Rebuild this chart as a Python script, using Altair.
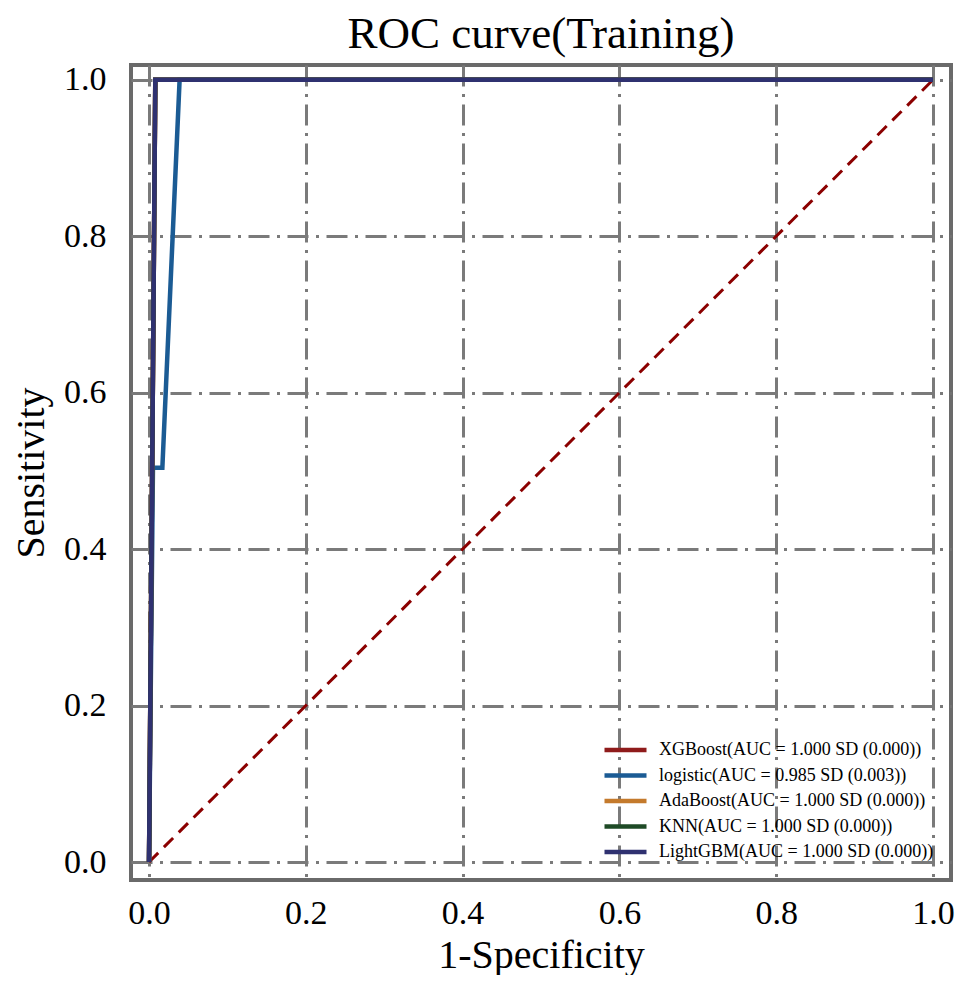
import altair as alt
import pandas as pd

models = ["XGBoost", "logistic", "AdaBoost", "KNN", "LightGBM"]
labels = [
    "XGBoost(AUC = 1.000 SD (0.000))",
    "logistic(AUC = 0.985 SD (0.003))",
    "AdaBoost(AUC = 1.000 SD (0.000))",
    "KNN(AUC = 1.000 SD (0.000))",
    "LightGBM(AUC = 1.000 SD (0.000))",
]
colors = ["#8f1b1b", "#1b5b94", "#c47a2c", "#1e4a26", "#2f3170"]

fpr_xgb = [0.0, 0.008, 1.0]
tpr_xgb = [0.0, 1.0, 1.0]
fpr_log = [0.0, 0.005, 0.017, 0.039, 1.0]
tpr_log = [0.0, 0.504, 0.504, 1.0, 1.0]
fpr_ada = [0.0, 0.008, 1.0]
tpr_ada = [0.0, 1.0, 1.0]
fpr_knn = [0.0, 0.008, 1.0]
tpr_knn = [0.0, 1.0, 1.0]
fpr_lgb = [0.0, 0.008, 1.0]
tpr_lgb = [0.0, 1.0, 1.0]

diag_x = [0.0, 1.0]
diag_y = [0.0, 1.0]

ticks = [0.0, 0.2, 0.4, 0.6, 0.8, 1.0]

series = [(fpr_xgb, tpr_xgb), (fpr_log, tpr_log), (fpr_ada, tpr_ada),
          (fpr_knn, tpr_knn), (fpr_lgb, tpr_lgb)]
rows = []
for i, (lab, (fx, ty)) in enumerate(zip(labels, series)):
    for j, (a, b) in enumerate(zip(fx, ty)):
        rows.append({"model": lab, "fpr": a, "tpr": b, "ord": j, "layer": i})
df = pd.DataFrame(rows)
ddf = pd.DataFrame({"fpr": diag_x, "tpr": diag_y})

FONT = "Liberation Serif"

xs = alt.Scale(domain=[-0.023, 1.023], nice=False, zero=False)
ys = alt.Scale(domain=[-0.023, 1.019], nice=False, zero=False)

xaxis = alt.Axis(values=ticks, format=".1f", title="1-Specificity",
                 labelPadding=16, titlePadding=5)
yaxis = alt.Axis(values=ticks, format=".1f", title="Sensitivity",
                 labelPadding=25, titlePadding=12)

diag = alt.Chart(ddf).mark_line(color="#8b0000", strokeWidth=3,
                                strokeDash=[13, 8]).encode(
    x=alt.X("fpr:Q", scale=xs, axis=xaxis),
    y=alt.Y("tpr:Q", scale=ys, axis=yaxis),
)

curves = alt.Chart(df).mark_line(strokeWidth=4.5, strokeJoin="miter").encode(
    x=alt.X("fpr:Q", scale=xs, axis=xaxis),
    y=alt.Y("tpr:Q", scale=ys, axis=yaxis),
    color=alt.Color("model:N", sort=labels,
                    scale=alt.Scale(domain=labels, range=colors),
                    legend=alt.Legend(
                        title=None, orient="none", legendX=471, legendY=674,
                        symbolType="M-1,0H1", symbolSize=1764,
                        symbolStrokeWidth=4.5, labelFont=FONT,
                        labelFontSize=18, labelColor="black", labelLimit=500,
                        clipHeight=22, rowPadding=3.5, labelOffset=10)),
    order="ord:Q",
    detail="layer:Q",
)

chart = alt.layer(diag, curves).properties(
    width=820, height=815,
    title=alt.TitleParams("ROC curve(Training)", font=FONT, fontSize=45,
                          fontWeight="normal", color="black", offset=6),
    autosize=alt.AutoSizeParams(type="none"),
    padding={"left": 123, "top": 57, "right": 4, "bottom": 95},
).configure_view(stroke="#6a6a6a", strokeWidth=4).configure_axis(
    grid=True, gridColor="#7a7a7a", gridWidth=3, gridDash=[21, 7.5, 3, 7.5],
    domain=False, ticks=False, labelFont=FONT, labelFontSize=34,
    labelColor="black", titleFont=FONT, titleFontSize=40,
    titleFontWeight="normal", titleColor="black",
)

chart.save("out.html", embed_options={"renderer": "svg", "actions": False})
